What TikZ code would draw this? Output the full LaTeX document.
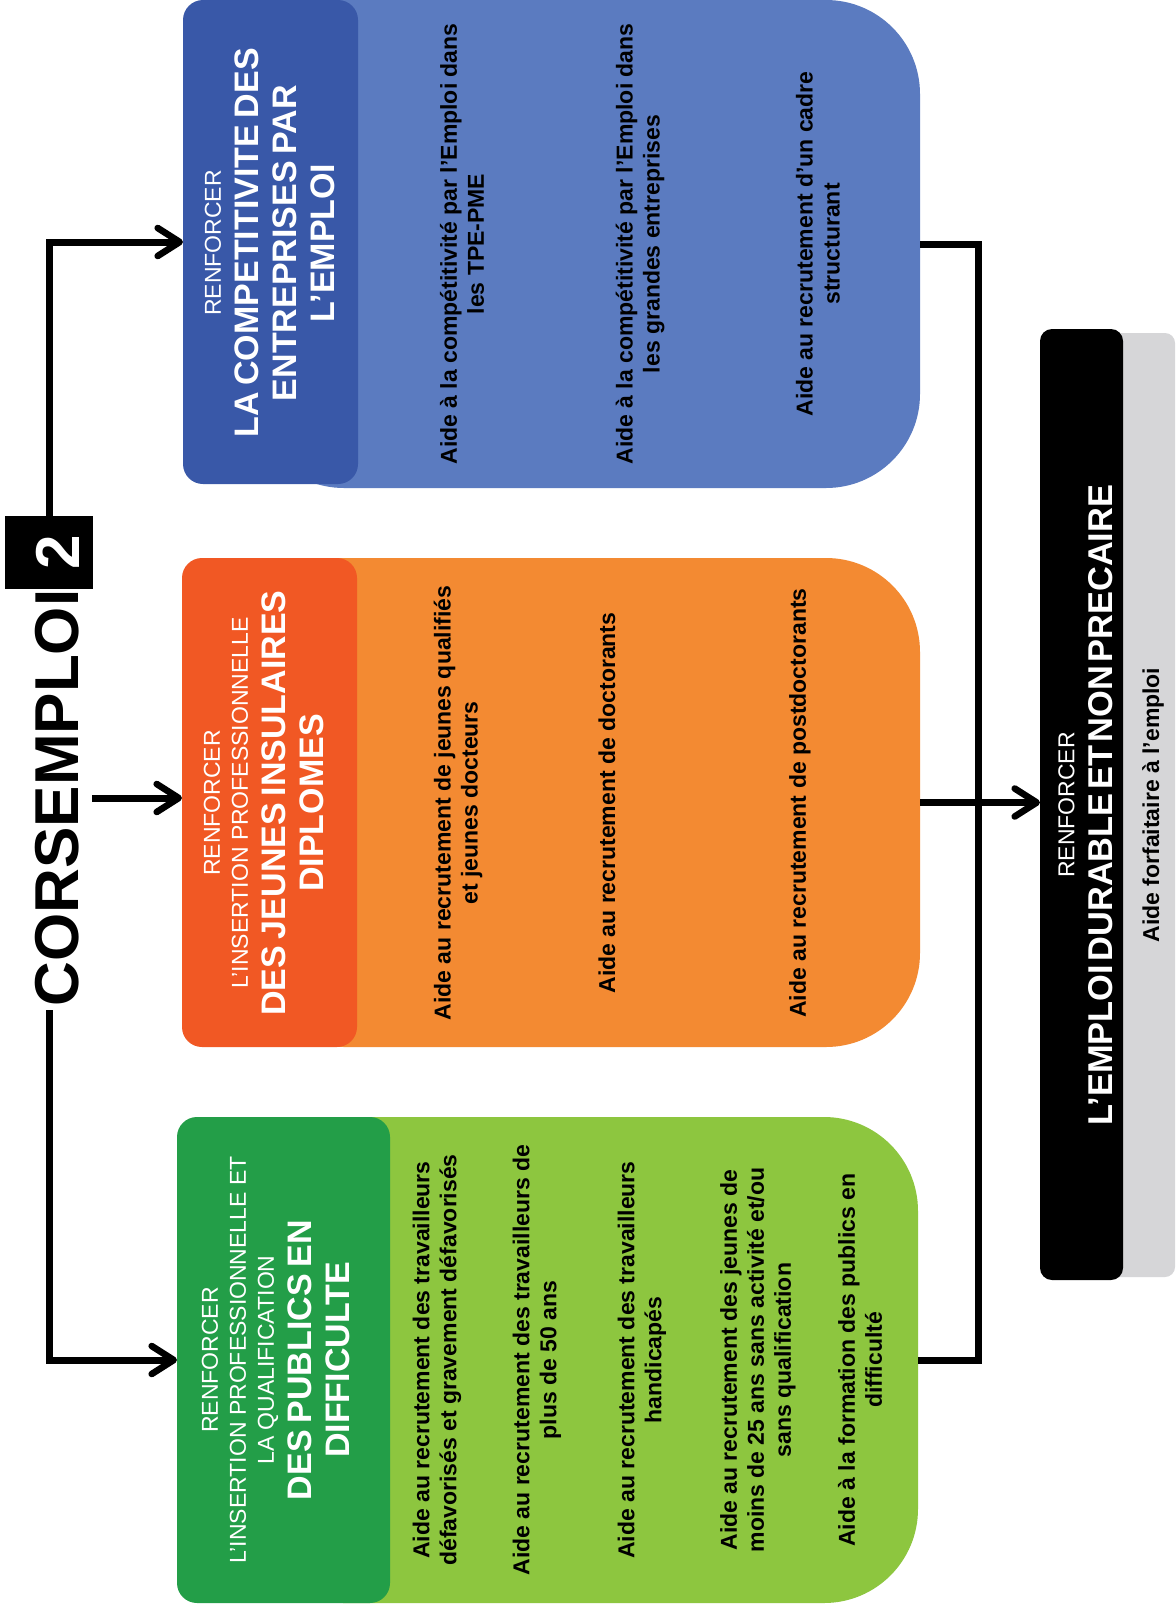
\documentclass[tikz,border=0pt]{standalone}
\usepackage{fontspec}
\setmainfont{Liberation Sans}
\usetikzlibrary{arrows.meta}
\definecolor{blueHead}{RGB}{57,88,168}
\definecolor{blueBody}{RGB}{91,123,192}
\definecolor{orHead}{RGB}{241,88,36}
\definecolor{orBody}{RGB}{243,138,50}
\definecolor{grHead}{RGB}{35,158,72}
\definecolor{grBody}{RGB}{141,198,63}
\definecolor{finGray}{RGB}{214,214,216}
\newcommand\bigfnt{\fontsize{17}{19}\selectfont\bfseries\spaceskip=0.2em\relax}
\newcommand\finfnt{\fontsize{17.2}{19}\selectfont\bfseries\spaceskip=0.1em\relax}
\newcommand\smfnt{\fontsize{11.5}{13.5}\selectfont\mdseries\spaceskip=0pt\relax}
\newcommand\txtfnt{\fontsize{11.5}{13.5}\selectfont\bfseries}
\newcommand\ttlfnt{\fontsize{31}{31}\selectfont\bfseries}
\begin{document}
\begin{tikzpicture}[x=0.5pt,y=-0.5pt,
  boxnode/.style={rectangle, inner sep=0pt, outer sep=0pt},
  conn/.style={line width=3.5pt},
  arr/.style={conn,-{Straight Barb[length=11pt,width=14pt,line width=3.3pt,round]}},
  vtxt/.style={rotate=90, align=center, inner sep=0pt},
  bodytxt/.style={vtxt, font=\txtfnt, text=black},
  headtxt/.style={vtxt, font=\bigfnt, text=white}]
\useasboundingbox (0,0) rectangle (1175,1612);
\fill[white] (0,0) rectangle (1175,1612);

% ---- boxes
\node[boxnode, fill=blueBody, rounded corners=47pt, minimum width=335pt, minimum height=244pt] (bb) at (585,244) {};
\node[boxnode, fill=blueHead, rounded corners=10pt, minimum width=87.5pt, minimum height=242pt] (bh) at (270.5,242) {};
\node[boxnode, fill=orBody, rounded corners=47pt, minimum width=335pt, minimum height=244.5pt] (ob) at (585,802.5) {};
\node[boxnode, fill=orHead, rounded corners=10pt, minimum width=87.5pt, minimum height=244.5pt] (oh) at (269.5,802.5) {};
\node[boxnode, fill=grBody, rounded corners=47pt, minimum width=334pt, minimum height=243pt] (gb) at (584,1360) {};
\node[boxnode, fill=grHead, rounded corners=10pt, minimum width=106.5pt, minimum height=243pt] (gh) at (283.5,1360) {};
\node[boxnode, fill=finGray, rounded corners=5pt, minimum width=37.5pt, minimum height=472pt] (fing) at (1137.5,805) {};
\node[boxnode, fill=black, rounded corners=6pt, minimum width=41.5pt, minimum height=475.5pt] (fin) at (1081.5,804.5) {};

% ---- title
\node[vtxt, font=\ttlfnt] (title) at (57.5,798) {CORSEMPLOI};
\node[boxnode, fill=black, minimum width=44pt, minimum height=36.5pt] (two) at (49,552.5) {};
\node[vtxt, font=\ttlfnt, text=white] (twot) at (58,552.5) {2};

% ---- header texts
\node[headtxt] (bht) at (270,243) {{\smfnt RENFORCER}\\LA COMPETITIVITE DES\\ENTREPRISES PAR\\L’EMPLOI};
\node[headtxt] (oht) at (264,803) {{\smfnt RENFORCER}\\[-5pt]{\smfnt L’INSERTION PROFESSIONNELLE}\\DES JEUNES INSULAIRES\\DIPLOMES};
\node[headtxt] (ght) at (276,1360) {{\smfnt RENFORCER}\\[-5pt]{\smfnt L’INSERTION PROFESSIONNELLE ET}\\[-5pt]{\smfnt LA QUALIFICATION}\\DES PUBLICS EN\\DIFFICULTE};
\node[headtxt, font=\finfnt] (fint) at (1085.5,805) {{\smfnt RENFORCER}\\L’EMPLOI DURABLE ET NON PRECAIRE};

% ---- body texts
\node[bodytxt] (b1) at (462,244) {Aide à la compétitivité par l'Emploi dans\\les TPE-PME};
\node[bodytxt] (b2) at (640,244) {Aide à la compétitivité par l'Emploi dans\\les grandes entreprises};
\node[bodytxt] (b3) at (818,244) {Aide au recrutement d'un cadre\\structurant};
\node[bodytxt] (o1) at (458,803) {Aide au recrutement de jeunes qualifiés\\et jeunes docteurs};
\node[bodytxt] (o2) at (607,803) {Aide au recrutement de doctorants};
\node[bodytxt] (o3) at (800,803) {Aide au recrutement de postdoctorants};
\node[bodytxt] (g1) at (437,1360) {Aide au recrutement des travailleurs\\défavorisés et gravement défavorisés};
\node[bodytxt] (g2) at (537,1360) {Aide au recrutement des travailleurs de\\plus de 50 ans};
\node[bodytxt] (g3) at (642,1360) {Aide au recrutement des travailleurs\\handicapés};
\node[bodytxt] (g4) at (758,1360) {Aide au recrutement des jeunes de\\moins de 25 ans sans activité et/ou\\sans qualification};
\node[bodytxt] (g5) at (860,1360) {Aide à la formation des publics en\\difficulté};
\node[bodytxt] (fingt) at (1153,805) {Aide forfaitaire à l'emploi};

% ---- connectors
\coordinate (tbot) at (49,1010);
\coordinate (mid) at (92,798);
\coordinate (merge) at (978,802.5);
\draw[arr] (two.north) |- (bh.west);
\draw[arr] (tbot) |- (gh.west);
\draw[arr] (mid) -- (mid -| oh.west);
\draw[conn] (bb.east) -| (merge);
\draw[conn] (gb.east) -| (merge);
\draw[arr] (ob.east) -- (ob.east -| fin.west);
\end{tikzpicture}
\end{document}
